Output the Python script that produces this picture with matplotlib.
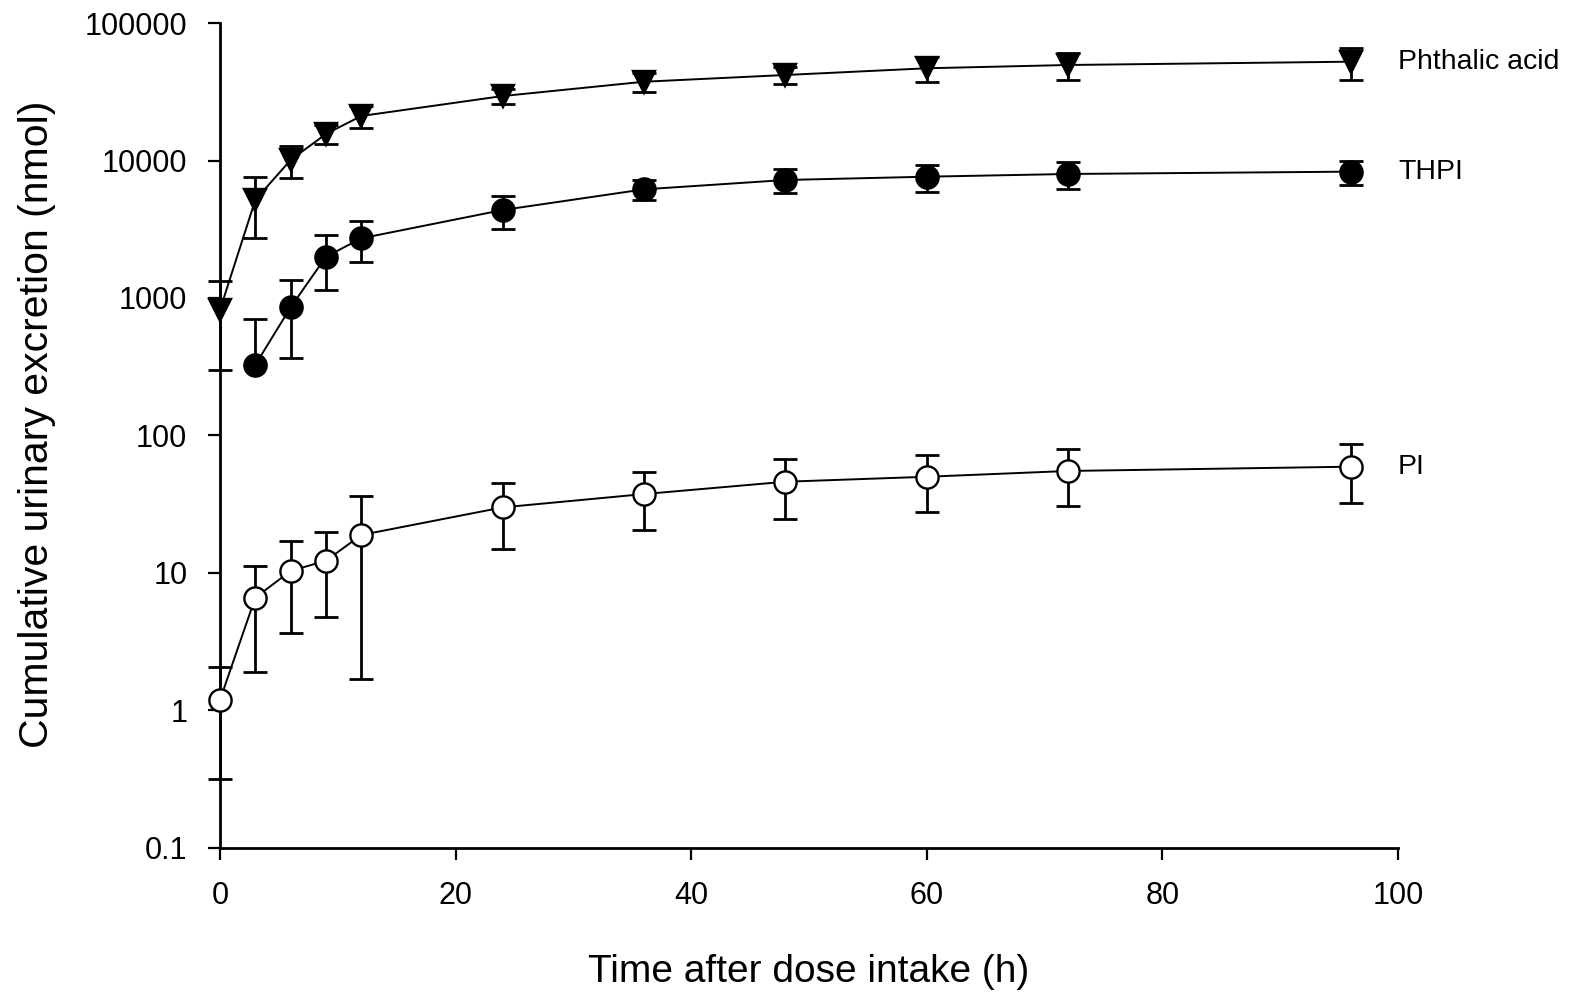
import matplotlib
matplotlib.use("Agg")
import matplotlib.pyplot as plt
from matplotlib.ticker import FixedLocator, NullLocator

plt.rcParams['font.family'] = ['Liberation Sans', 'DejaVu Sans']

# sampling times (h)
time_h = [0, 3, 6, 9, 12, 24, 36, 48, 60, 72, 96]
time_thpi = [3, 6, 9, 12, 24, 36, 48, 60, 72, 96]

# cumulative urinary excretion (nmol), mean and SD
phthalic_mean = [818, 5160, 10090, 15590, 21080, 29440, 37410, 41880, 46860, 49510, 52320]
phthalic_sd = [520, 2450, 2600, 2400, 3700, 3700, 6100, 6000, 9600, 11300, 13500]

thpi_mean = [326, 855, 1995, 2717, 4365, 6170, 7215, 7625, 7980, 8300]
thpi_sd = [380, 490, 860, 890, 1170, 1030, 1460, 1700, 1760, 1700]

pi_mean = [1.19, 6.61, 10.35, 12.28, 18.9, 30.0, 37.5, 46.1, 50.1, 55.2, 59.3]
pi_sd = [0.87, 4.7, 6.7, 7.5, 17.2, 15.0, 16.8, 21.3, 22.5, 24.7, 27.2]

y_ticks = [0.1, 1, 10, 100, 1000, 10000, 100000]
y_tick_labels = ['0.1', '1', '10', '100', '1000', '10000', '100000']
x_ticks = [0, 20, 40, 60, 80, 100]

fig = plt.figure(figsize=(15.71, 9.92), dpi=100)
ax = fig.add_axes([0.1400, 0.1452, 0.7499, 0.8316])

err_style = dict(ecolor='black', elinewidth=2.0, capsize=8.5, capthick=2.0)
line_style = dict(color='black', linewidth=1.4, markeredgecolor='black')

series = [
    (time_h, phthalic_mean, phthalic_sd, 'v', 'black', 'Phthalic acid'),
    (time_thpi, thpi_mean, thpi_sd, 'o', 'black', 'THPI'),
    (time_h, pi_mean, pi_sd, 'o', 'white', 'PI'),
]

for t, m, sd, mk, fc, name in series:
    # on a log axis a lower bar reaching zero or below is left out
    lower = [s if s < v else 0 for v, s in zip(m, sd)]
    cont = ax.errorbar(t, m, yerr=[lower, sd], fmt='none', zorder=2, **err_style)
    for art in list(cont.lines[1]) + list(cont.lines[2]):
        art.set_clip_on(False)
    ax.plot(t, m, marker=mk, markersize=16, markerfacecolor=fc,
            markeredgewidth=1.7, zorder=3, clip_on=False, **line_style)
    ax.text(100, m[-1], name, fontsize=20.5, ha='left', va='center')

ax.set_yscale('log')
ax.set_ylim(0.1, 100000)
ax.set_xlim(0, 100)
ax.yaxis.set_major_locator(FixedLocator(y_ticks))
ax.yaxis.set_minor_locator(NullLocator())
ax.set_yticklabels(y_tick_labels)
ax.set_xticks(x_ticks)

for side in ('top', 'right'):
    ax.spines[side].set_visible(False)
for side in ('left', 'bottom'):
    ax.spines[side].set_linewidth(2.0)

ax.tick_params(axis='both', direction='out', length=8.5, width=1.6,
               labelsize=22, pad=15)

ax.set_xlabel('Time after dose intake (h)', fontsize=28, labelpad=31)
ax.set_ylabel('Cumulative urinary excretion (nmol)', fontsize=29.5)
ax.yaxis.set_label_coords(-0.139, 0.514)

fig.savefig('out.png', dpi=100)
